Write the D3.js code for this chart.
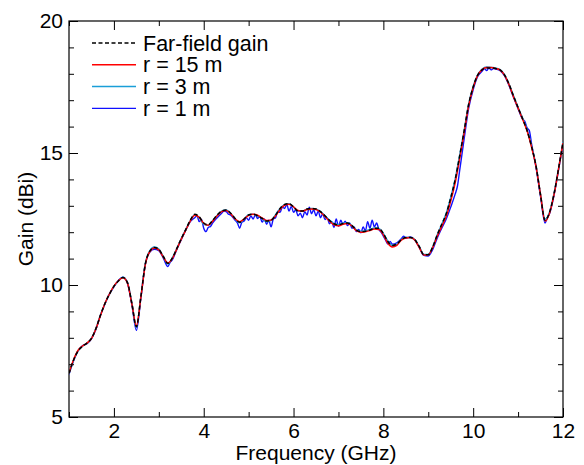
<!DOCTYPE html>
<html>
<head>
<meta charset="utf-8">
<script src="https://cdn.jsdelivr.net/npm/d3@7"></script>
<style>
  body { margin: 0; background: #fff; }
  svg text { font-family: Arial, "Liberation Sans", sans-serif; fill: #000; }
  .axis path { display: none; }
  .axis line { stroke: #000; }
</style>
</head>
<body>
<svg id="chart" width="584" height="465"></svg>
<script>
// frequency grid (GHz) for the smooth series
var freq = [
  1.0,1.1,1.2,1.3,1.4,1.5,1.6,1.7,1.8,1.9,
  2.0,2.1,2.2,2.3,2.4,2.5,2.6,2.7,2.8,2.9,
  3.0,3.1,3.2,3.3,3.4,3.5,3.6,3.7,3.8,3.9,
  4.0,4.1,4.2,4.3,4.4,4.5,4.6,4.7,4.8,4.9,
  5.0,5.1,5.2,5.3,5.4,5.5,5.6,5.7,5.8,5.9,
  6.0,6.1,6.2,6.3,6.4,6.5,6.6,6.7,6.8,6.9,
  7.0,7.1,7.2,7.3,7.4,7.5,7.6,7.7,7.8,7.9,
  8.0,8.1,8.2,8.3,8.4,8.5,8.6,8.7,8.8,8.9,
  9.0,9.1,9.2,9.3,9.4,9.5,9.6,9.7,9.8,9.9,
  10.0,10.1,10.2,10.3,10.4,10.5,10.6,10.7,10.8,10.9,
  11.0,11.1,11.2,11.3,11.4,11.5,11.6,11.7,11.8,11.9,
  12.0
]

// far-field gain (dBi)
var farField = [
  6.65,7.15,7.50,7.68,7.80,7.98,8.35,8.85,9.30,9.65,
  9.95,10.15,10.28,10.10,9.30,8.42,9.55,10.80,11.28,11.42,
  11.35,11.08,10.82,11.02,11.38,11.75,12.10,12.45,12.68,12.58,
  12.35,12.28,12.45,12.65,12.80,12.84,12.72,12.52,12.38,12.50,
  12.65,12.68,12.62,12.52,12.42,12.45,12.65,12.90,13.05,13.08,
  12.96,12.80,12.80,12.88,12.90,12.88,12.78,12.62,12.45,12.32,
  12.28,12.33,12.35,12.25,12.08,12.02,12.04,12.08,12.15,12.15,
  11.95,11.65,11.50,11.55,11.72,11.80,11.80,11.72,11.45,11.15,
  11.15,11.45,11.90,12.30,12.70,13.30,14.00,14.90,15.85,16.85,
  17.50,17.95,18.15,18.22,18.22,18.20,18.15,17.95,17.60,17.15,
  16.72,16.30,15.85,15.25,14.50,13.40,12.45,12.75,13.45,14.40,
  15.40
]

// r = 15 m
var r15 = [
  6.66,7.16,7.52,7.69,7.80,7.97,8.34,8.84,9.30,9.66,
  9.96,10.16,10.27,10.08,9.28,8.45,9.52,10.78,11.27,11.40,
  11.33,11.06,10.84,11.00,11.36,11.74,12.08,12.42,12.64,12.56,
  12.34,12.26,12.42,12.62,12.78,12.82,12.70,12.50,12.40,12.50,
  12.64,12.68,12.64,12.54,12.44,12.46,12.62,12.86,13.02,13.06,
  12.96,12.82,12.80,12.86,12.88,12.86,12.76,12.60,12.42,12.28,
  12.24,12.30,12.33,12.24,12.06,12.00,12.02,12.06,12.12,12.10,
  11.90,11.58,11.44,11.50,11.70,11.78,11.80,11.70,11.42,11.14,
  11.15,11.42,11.85,12.22,12.60,13.18,13.88,14.80,15.78,16.80,
  17.48,17.94,18.16,18.24,18.24,18.20,18.14,17.94,17.58,17.12,
  16.70,16.28,15.84,15.22,14.48,13.42,12.42,12.72,13.42,14.38,
  15.38
]

// r = 3 m
var r3 = [
  6.64,7.14,7.50,7.68,7.79,7.98,8.35,8.86,9.29,9.65,
  9.95,10.15,10.29,10.10,9.32,8.40,9.55,10.82,11.30,11.44,
  11.36,11.08,10.80,11.03,11.38,11.76,12.10,12.44,12.66,12.55,
  12.30,12.26,12.44,12.64,12.80,12.84,12.72,12.50,12.36,12.50,
  12.66,12.68,12.62,12.52,12.40,12.45,12.66,12.90,13.04,13.08,
  12.95,12.80,12.79,12.88,12.90,12.88,12.78,12.62,12.46,12.32,
  12.28,12.34,12.36,12.25,12.08,12.04,12.05,12.10,12.16,12.14,
  11.95,11.66,11.50,11.55,11.72,11.80,11.80,11.72,11.45,11.16,
  11.16,11.45,11.90,12.30,12.72,13.32,14.02,14.92,15.86,16.86,
  17.52,17.96,18.18,18.26,18.24,18.22,18.16,17.96,17.60,17.16,
  16.72,16.32,15.88,15.26,14.52,13.42,12.50,12.76,13.46,14.40,
  15.42
]

// r = 1 m, [GHz, dBi], finer where the trace is ragged
var r1 = [
  [1.0,6.62],[1.1,7.12],[1.2,7.50],[1.3,7.70],[1.4,7.78],[1.5,7.96],[1.6,8.32],[1.7,8.85],[1.8,9.28],[1.9,9.66],
  [2.0,9.93],[2.1,10.17],[2.2,10.30],[2.3,10.08],[2.4,9.25],[2.5,8.28],[2.6,9.50],[2.7,10.78],[2.8,11.25],[2.9,11.35],
  [3.0,11.30],[3.1,11.02],[3.2,10.70],[3.25,10.85],[3.3,10.95],[3.4,11.35],[3.5,11.72],[3.6,12.08],[3.7,12.40],
  [3.8,12.55],[3.85,12.62],[3.9,12.40],[3.95,12.48],[4.0,12.15],[4.05,12.02],[4.1,12.18],[4.15,12.22],[4.2,12.35],
  [4.3,12.55],[4.4,12.72],[4.45,12.80],[4.5,12.78],[4.55,12.68],[4.6,12.65],[4.7,12.45],[4.75,12.35],[4.8,12.15],
  [4.85,12.38],[4.9,12.42],[4.95,12.55],[5.0,12.45],[5.05,12.62],[5.1,12.50],[5.15,12.66],[5.2,12.52],[5.25,12.60],
  [5.3,12.38],[5.35,12.50],[5.4,12.30],[5.45,12.45],[5.5,12.20],[5.55,12.50],[5.6,12.55],[5.65,12.80],[5.7,12.75],
  [5.75,12.95],[5.8,12.90],[5.85,13.05],[5.9,12.80],[5.95,12.98],[6.0,12.75],[6.05,12.85],[6.1,12.62],[6.15,12.72],
  [6.2,12.55],[6.25,12.78],[6.3,12.65],[6.35,12.95],[6.4,12.70],[6.45,12.85],[6.5,12.62],[6.55,12.80],[6.6,12.55],
  [6.65,12.70],[6.7,12.48],[6.75,12.55],[6.8,12.32],[6.85,12.40],[6.9,12.18],[6.95,12.50],[7.0,12.22],[7.05,12.45],
  [7.1,12.30],[7.15,12.42],[7.2,12.25],[7.25,12.35],[7.3,12.15],[7.35,12.20],[7.4,12.02],[7.45,12.10],[7.5,11.98],
  [7.55,12.20],[7.6,12.05],[7.65,12.40],[7.7,12.15],[7.75,12.45],[7.8,12.20],[7.85,12.35],[7.9,12.10],[7.95,12.00],
  [8.0,11.85],[8.05,11.70],[8.1,11.55],[8.15,11.65],[8.2,11.55],[8.3,11.60],[8.4,11.75],[8.45,11.85],[8.5,11.78],
  [8.6,11.82],[8.7,11.70],[8.8,11.42],[8.9,11.12],[9.0,11.10],[9.1,11.35],[9.2,11.78],[9.3,12.15],[9.4,12.50],
  [9.5,12.95],[9.6,13.45],[9.65,13.75],[9.7,14.35],[9.8,15.55],[9.9,16.70],[10.0,17.40],[10.1,17.90],[10.2,18.10],[10.25,18.20],
  [10.3,18.12],[10.35,18.22],[10.4,18.15],[10.45,18.20],[10.5,18.18],[10.6,18.12],[10.7,17.92],[10.8,17.55],
  [10.9,17.10],[11.0,16.68],[11.1,16.28],[11.15,16.20],[11.2,15.95],[11.25,15.85],[11.3,15.35],[11.4,14.45],
  [11.5,13.35],[11.6,12.35],[11.65,12.55],[11.7,12.70],[11.8,13.40],[11.9,14.35],[12.0,15.35]
]

var xMajor = [2, 4, 6, 8, 10, 12]
var xMinor = [1, 3, 5, 7, 9, 11]
var yMajor = [5, 10, 15, 20]
var yMinor = [6, 7, 8, 9, 11, 12, 13, 14, 16, 17, 18, 19]
var legendLabels = ["Far-field gain", "r = 15 m", "r = 3 m", "r = 1 m"]

var margin = { left: 69, top: 21, right: 21, bottom: 48 }
var width = 584 - margin.left - margin.right
var height = 465 - margin.top - margin.bottom

var svg = d3.select("#chart")
var g = svg.append("g")
  .attr("transform", "translate(" + margin.left + "," + margin.top + ")")

var x = d3.scaleLinear().domain([1, 12]).range([0, width])
var y = d3.scaleLinear().domain([5, 20]).range([height, 0])

g.append("clipPath").attr("id", "plotclip")
  .append("rect").attr("width", width).attr("height", height)

// ticks pointing inward on all four sides
function tickAxis(axisFn, scale, vals, size, tr, labels) {
  var a = axisFn(scale).tickValues(vals).tickSize(-size).tickPadding(6)
  if (!labels) a.tickFormat("")
  var sel = g.append("g").attr("class", "axis").attr("transform", tr).call(a)
  sel.selectAll("text").style("font-size", "21px")
  return sel
}

tickAxis(d3.axisBottom, x, xMajor, 9, "translate(0," + height + ")", true)
tickAxis(d3.axisBottom, x, xMinor, 5, "translate(0," + height + ")", false)
tickAxis(d3.axisTop, x, xMajor, 9, "translate(0,0)", false)
tickAxis(d3.axisTop, x, xMinor, 5, "translate(0,0)", false)
tickAxis(d3.axisLeft, y, yMajor, 9, "translate(0,0)", true)
tickAxis(d3.axisLeft, y, yMinor, 5, "translate(0,0)", false)
tickAxis(d3.axisRight, y, yMajor, 9, "translate(" + width + ",0)", false)
tickAxis(d3.axisRight, y, yMinor, 5, "translate(" + width + ",0)", false)

g.append("rect")
  .attr("width", width).attr("height", height)
  .attr("fill", "none").attr("stroke", "#000").attr("stroke-width", 1.2)

var line = d3.line()
  .x(function(d) { return x(d[0]) })
  .y(function(d) { return y(d[1]) })
  .curve(d3.curveMonotoneX)

function zipGrid(vals) {
  return vals.map(function(v, i) { return [freq[i], v] })
}

var series = [
  { data: r1, color: "#1010ff", dash: null, w: 1.4 },
  { data: zipGrid(r3), color: "#1a9ed8", dash: null, w: 1.5 },
  { data: zipGrid(r15), color: "#ff0000", dash: null, w: 1.5 },
  { data: zipGrid(farField), color: "#000", dash: "4,2.5", w: 1.5 }
]

g.append("g").attr("clip-path", "url(#plotclip)")
  .selectAll("path")
  .data(series)
  .enter()
  .append("path")
  .attr("d", function(d) { return line(d.data) })
  .attr("fill", "none")
  .attr("stroke", function(d) { return d.color })
  .attr("stroke-width", function(d) { return d.w })
  .attr("stroke-dasharray", function(d) { return d.dash })

// legend
var legendSeries = [series[3], series[2], series[1], series[0]]
var legend = svg.append("g")
legend.selectAll("line")
  .data(legendSeries)
  .enter()
  .append("line")
  .attr("x1", 92).attr("x2", 136)
  .attr("y1", function(d, i) { return 43 + i * 21.8 })
  .attr("y2", function(d, i) { return 43 + i * 21.8 })
  .attr("stroke", function(d) { return d.color })
  .attr("stroke-width", function(d) { return d.w })
  .attr("stroke-dasharray", function(d) { return d.dash })

legend.selectAll("text")
  .data(legendLabels)
  .enter()
  .append("text")
  .attr("x", 143)
  .attr("y", function(d, i) { return 43 + i * 21.8 })
  .attr("dy", "0.35em")
  .style("font-size", "21.5px")
  .text(function(d) { return d })

// axis titles
svg.append("text")
  .attr("x", margin.left + width / 2)
  .attr("y", 460)
  .attr("text-anchor", "middle")
  .style("font-size", "21px")
  .text("Frequency (GHz)")

svg.append("text")
  .attr("transform", "translate(33," + (margin.top + height / 2) + ") rotate(-90)")
  .attr("text-anchor", "middle")
  .style("font-size", "21px")
  .text("Gain (dBi)")
</script>
</body>
</html>
